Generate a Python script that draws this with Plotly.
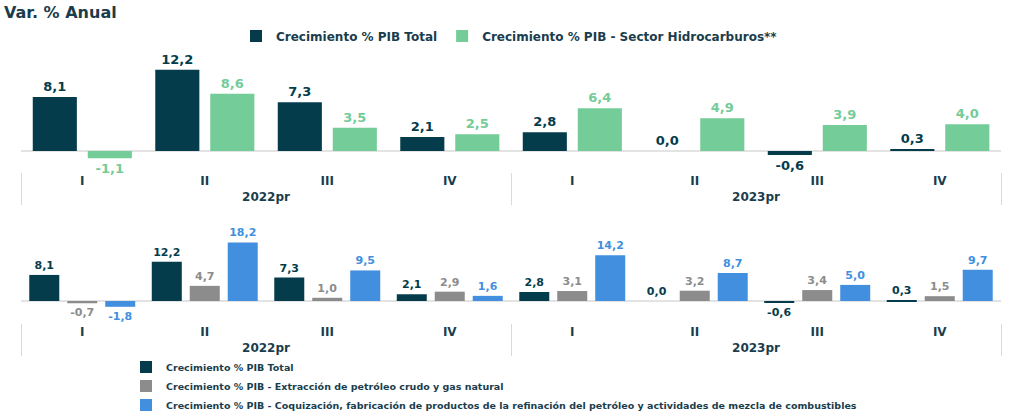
import plotly.graph_objects as go

years = ["2022pr"] * 4 + ["2023pr"] * 4
quarters = ["I", "II", "III", "IV"] * 2
pib_total = [8.1, 12.2, 7.3, 2.1, 2.8, 0.0, -0.6, 0.3]
pib_hidrocarburos = [-1.1, 8.6, 3.5, 2.5, 6.4, 4.9, 3.9, 4.0]
pib_extraccion = [-0.7, 4.7, 1.0, 2.9, 3.1, 3.2, 3.4, 1.5]
pib_coquizacion = [-1.8, 18.2, 9.5, 1.6, 14.2, 8.7, 5.0, 9.7]

name_total = "Crecimiento % PIB Total"
name_hidro = "Crecimiento % PIB - Sector Hidrocarburos**"
name_extr = "Crecimiento % PIB - Extracción de petróleo crudo y gas natural"
name_coq = ("Crecimiento % PIB - Coquización, fabricación de productos de la refinación "
            "del petróleo y actividades de mezcla de combustibles")

DARK = "#053c4b"
GREEN = "#74cc98"
GRAY = "#8c8c8c"
BLUE = "#418fde"
TXT = "#1a3d4d"
FONT = "DejaVu Sans"

x = [years, quarters]

def bar(y, name, color, tcolor, xa, ya, width, offset, legend, tsize):
    return go.Bar(
        x=x, y=y, name=name, marker=dict(color=color, line=dict(width=0)),
        xaxis=xa, yaxis=ya, width=width, offset=offset,
        text=[f"{v:.1f}".replace(".", ",") for v in y],
        textposition="outside", cliponaxis=False, constraintext="none",
        textfont=dict(family=FONT, size=tsize, color=tcolor, weight="bold"),
        legend=legend, hoverinfo="skip",
    )

fig = go.Figure()
fig.add_trace(bar(pib_total, name_total, DARK, DARK, "x", "y", 0.36, -0.404, "legend", 13))
fig.add_trace(bar(pib_hidrocarburos, name_hidro, GREEN, GREEN, "x", "y", 0.36, 0.045, "legend", 13))
fig.add_trace(bar(pib_total, name_total, DARK, DARK, "x2", "y2", 0.245, -0.4325, "legend2", 11))
fig.add_trace(bar(pib_extraccion, name_extr, GRAY, GRAY, "x2", "y2", 0.245, -0.1225, "legend2", 11))
fig.add_trace(bar(pib_coquizacion, name_coq, BLUE, BLUE, "x2", "y2", 0.245, 0.1875, "legend2", 11))

H = 413
W = 1013
xdom = [21 / W, 1001 / W]
tickfont = dict(family=FONT, size=12, color=TXT, weight="bold")
xcommon = dict(
    domain=xdom, type="multicategory", showdividers=True, dividercolor="#d9d9d9",
    dividerwidth=1, tickfont=tickfont, showline=False, showgrid=False, ticks="",
)
ycommon = dict(
    showticklabels=False, showgrid=False, zeroline=True, zerolinecolor="#e3e3e3",
    zerolinewidth=1.5, fixedrange=True,
)

fig.update_layout(
    width=W, height=H,
    margin=dict(l=0, r=0, t=0, b=0, autoexpand=False),
    paper_bgcolor="white", plot_bgcolor="white",
    barmode="overlay",
    title=dict(text="<b>Var. % Anual</b>", x=0.004, xanchor="left", y=1 - 12 / H,
               yanchor="middle", yref="container",
               font=dict(family=FONT, size=16, color=TXT)),
    xaxis=dict(anchor="y", **xcommon),
    yaxis=dict(domain=[1 - 172 / H, 1 - 55 / H], range=[-3.15, 14.4], anchor="x", **ycommon),
    xaxis2=dict(anchor="y2", **xcommon),
    yaxis2=dict(domain=[1 - 323 / H, 1 - 235 / H], range=[-6.83, 20.5], anchor="x2", **ycommon),
    legend=dict(orientation="h", x=236 / W, xanchor="left", y=1 - 36 / H, yanchor="middle",
                font=dict(family=FONT, size=12, color=TXT, weight="bold"),
                bgcolor="rgba(0,0,0,0)", traceorder="normal"),
    legend2=dict(orientation="v", x=126 / W, xanchor="left", y=1 - 386 / H, yanchor="middle",
                 font=dict(family=FONT, size=9.5, color=TXT, weight="bold"),
                 bgcolor="rgba(0,0,0,0)", traceorder="normal", tracegroupgap=0),
    showlegend=True,
)

fig.write_html("out.html", config={"displayModeBar": False},
               post_script="document.body.style.margin='0';")
